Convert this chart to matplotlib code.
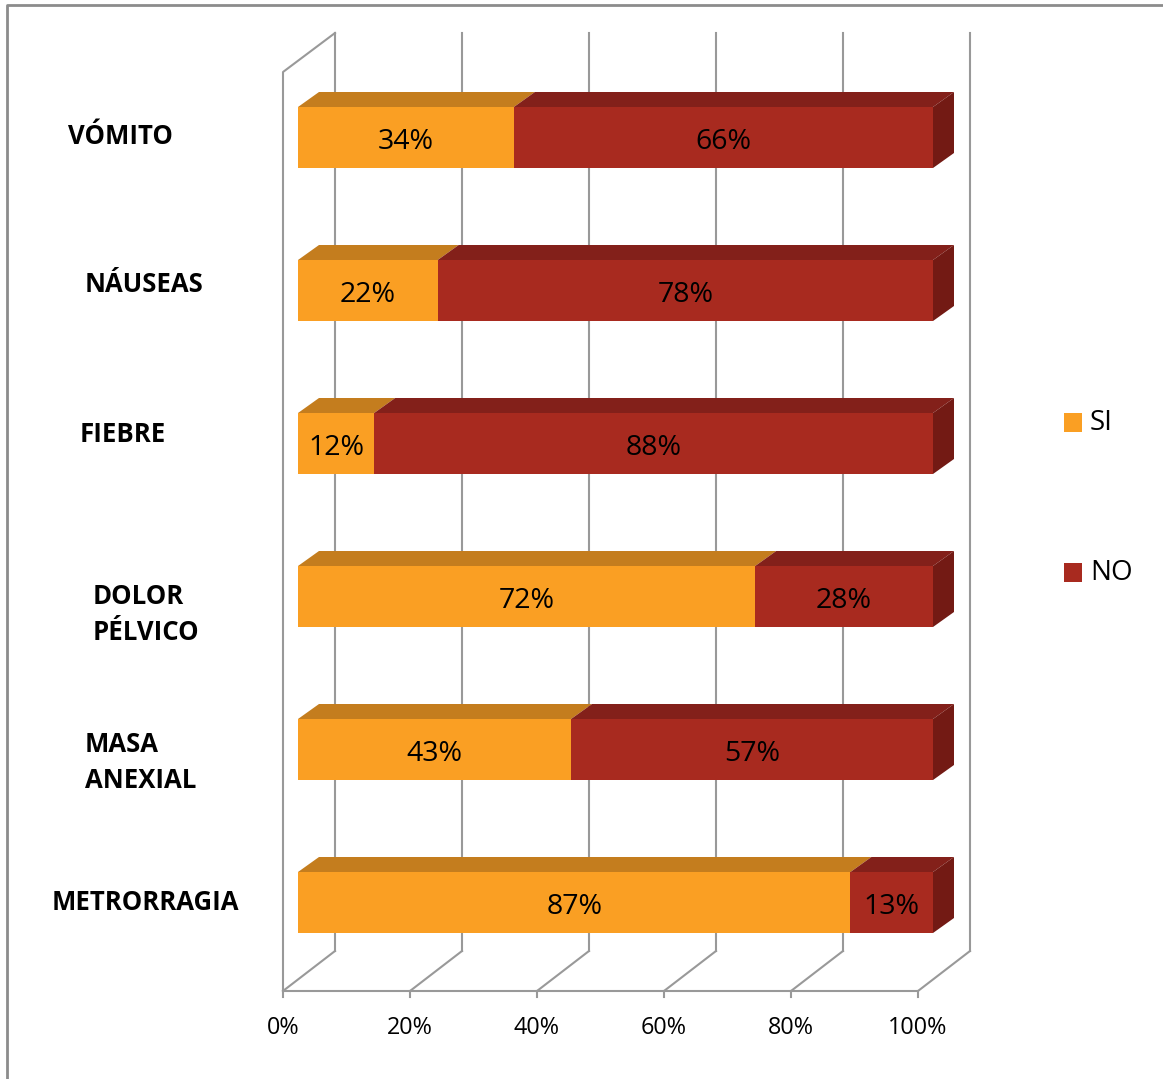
import numpy as np
import matplotlib.pyplot as plt
from matplotlib.patches import Polygon, Rectangle

# datos
categorias = ['VÓMITO', 'NÁUSEAS', 'FIEBRE', 'DOLOR\nPÉLVICO', 'MASA\nANEXIAL', 'METRORRAGIA']
si = np.array([34, 22, 12, 72, 43, 87])
no = np.array([66, 78, 88, 28, 57, 13])
ticks = [0, 20, 40, 60, 80, 100]
tick_labels = ['0%', '20%', '40%', '60%', '80%', '100%']
series = ['SI', 'NO']

# colores (frente, arriba, lado)
col_si = ('#FA9F23', '#C47D1E', '#9C6418')
col_no = ('#A82A1F', '#83201A', '#731A14')
gris = '#999999'

W, H = 1163, 1079
fig = plt.figure(figsize=(W / 100, H / 100), dpi=100)
ax = fig.add_axes([0, 0, 1, 1])

# escala: 6.35 px por %, 153 px por fila
sx, sy = 6.35, 153.0
x0px, y0px = 298, 137.5
ax.set_xlim(-x0px / sx, (W - x0px) / sx)
ax.set_ylim((H - y0px) / sy, -y0px / sy)
ax.axis('off')

def px(dx=0, dy=0):
    return dx / sx, dy / sy

n = len(categorias)
bar_h = 61 / sy
bdx, bdy = px(21, -15)
fdx, fdy = px(-15, 11.5)   # plano frontal de la pared
kdx, kdy = px(37, -28.5)   # plano trasero de la pared
floor_f = (n - 1) + 88.5 / sy
floor_b = floor_f - 40 / sy
top_b = -(y0px - 33) / sy
top_f = top_b + 39 / sy

# rejilla
for t, lab in zip(ticks, tick_labels):
    ax.plot([t + kdx, t + kdx], [top_b, floor_b], color=gris, lw=1.5, zorder=1)
    ax.plot([t + fdx, t + kdx], [floor_f, floor_b], color=gris, lw=1.5, zorder=1)
    ax.plot([t + fdx, t + fdx], [floor_f, floor_f + 6 / sy], color=gris, lw=1.5, zorder=1)
    ax.text(t + fdx, floor_f + 37 / sy, lab, ha='center', va='center',
            fontsize=16.8, family='Open Sans')
ax.plot([fdx, 100 + fdx], [floor_f, floor_f], color=gris, lw=1.5, zorder=1)
ax.plot([fdx, fdx, kdx], [floor_f, top_f, top_b], color=gris, lw=1.5, zorder=1)

# barras 3D
def barra(left, w, y, cols, side):
    top = y - bar_h / 2
    ax.add_patch(Polygon([(left, top), (left + w, top), (left + w + bdx, top + bdy),
                          (left + bdx, top + bdy)], closed=True, fc=cols[1], ec='none', zorder=3))
    ax.add_patch(Rectangle((left, top), w, bar_h, fc=cols[0], ec='none', zorder=4))
    if side:
        ax.add_patch(Polygon([(left + w, top), (left + w + bdx, top + bdy),
                              (left + w + bdx, top + bar_h + bdy), (left + w, top + bar_h)],
                             closed=True, fc=cols[2], ec='none', zorder=4))

for i in range(n):
    barra(0, si[i], i, col_si, False)
    barra(si[i], no[i], i, col_no, True)
    ax.text(si[i] / 2, i + 4.5 / sy, f'{si[i]}%', ha='center', va='center', fontsize=20.5,
            family='Open Sans', zorder=5)
    ax.text(si[i] + no[i] / 2, i + 4.5 / sy, f'{no[i]}%', ha='center', va='center', fontsize=20.5,
            family='Open Sans', zorder=5)

# etiquetas de categoria
label_left_px = [68, 85, 80, 93, 85, 52]
label_dy_px = [-1.5, -6, -9, 18, 13, 0.5]
for i, c in enumerate(categorias):
    ax.text((label_left_px[i] - x0px) / sx, i + label_dy_px[i] / sy, c, ha='left', va='center',
            fontsize=18.5, fontweight='bold', family='Open Sans', linespacing=1.4)

# leyenda
for j, (name, cols) in enumerate(zip(series, [col_si, col_no])):
    yc = (422 - y0px + 150 * j) / sy
    ax.add_patch(Rectangle(((1064 - x0px) / sx, yc - 9.5 / sy), 18 / sx, 19 / sy,
                           fc=cols[0], ec='none'))
    ax.text((1090 - x0px) / sx, yc + 1 / sy, name, ha='left', va='center', fontsize=20,
            family='Open Sans')

# borde
ax.plot([(7 - x0px) / sx, (7 - x0px) / sx, W / sx], [H / sy, (5 - y0px) / sy, (5 - y0px) / sy],
        color='#8C8C8C', lw=2, zorder=6, clip_on=False)

plt.savefig('out.png', dpi=100)
